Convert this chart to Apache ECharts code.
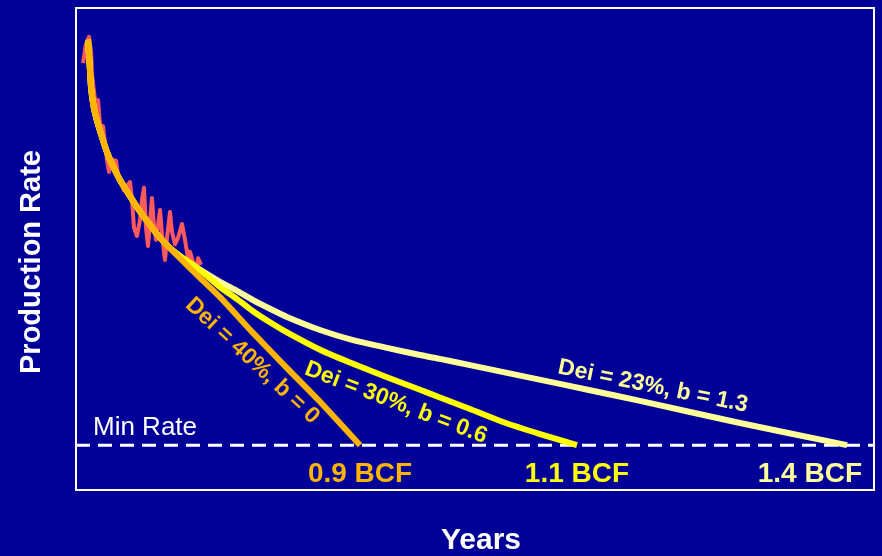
<!DOCTYPE html>
<html><head><meta charset="utf-8">
<script src="https://cdn.jsdelivr.net/npm/echarts@6/dist/echarts.min.js"></script>
<style>html,body{margin:0;padding:0;background:#000099}#c{width:882px;height:556px}</style>
</head><body><div id="c"></div>
<script>
// ---- data (years, production rate) ----
const headCurve = [[0.150,93.4],[0.169,88.8],[0.188,83.6],[0.219,79.7],[0.263,76.6],[0.326,73.2],[0.388,70.1],[0.464,67.2],[0.551,64.3],[0.652,61.6],[0.764,58.7],[0.890,55.8],[1.015,53.1],[1.153,50.6]];
const orangeTail = [[1.303,48.1],[1.554,44.0],[1.805,40.0],[2.218,32.6],[2.644,25.3],[3.058,18.3],[3.559,9.3]];
const yellowTail = [[1.303,48.5],[1.466,46.7],[1.642,44.4],[1.805,42.1],[2.018,39.6],[2.218,37.1],[2.431,34.8],[2.644,32.7],[3.058,29.1],[3.471,26.2],[3.897,23.4],[4.311,20.8],[4.561,19.2],[4.937,16.8],[5.351,14.1],[5.815,11.6],[6.278,9.3]];
const lightTail = [[1.303,48.5],[1.466,46.7],[1.642,44.8],[1.805,43.2],[2.018,41.3],[2.218,39.4],[2.431,37.6],[2.644,35.9],[3.058,33.2],[3.471,31.1],[3.897,29.5],[4.311,28.0],[4.561,27.2],[4.937,25.9],[5.777,23.0],[6.441,20.7],[7.068,18.5],[8.321,13.9],[9.662,9.3]];
const redData = [[0.088,88.6],[0.125,92.5],[0.163,94.0],[0.188,90.9],[0.201,86.1],[0.226,82.6],[0.251,79.3],[0.276,80.9],[0.301,75.7],[0.338,75.5],[0.363,72.0],[0.388,68.5],[0.414,66.0],[0.451,68.5],[0.501,68.3],[0.526,65.4],[0.564,63.9],[0.602,62.2],[0.639,63.1],[0.677,63.9],[0.702,60.2],[0.727,54.4],[0.764,52.7],[0.802,56.0],[0.827,60.2],[0.852,62.7],[0.877,54.4],[0.902,50.6],[0.927,55.6],[0.952,60.6],[0.977,54.8],[1.003,51.9],[1.028,55.0],[1.053,58.1],[1.078,52.9],[1.115,47.7],[1.140,52.3],[1.178,57.7],[1.203,53.5],[1.241,51.0],[1.278,52.3],[1.328,55.2],[1.366,51.9],[1.404,48.1],[1.429,49.4],[1.466,47.3],[1.504,45.2],[1.529,48.1],[1.566,46.7]];
const minRate = 9.3;
const xRange = [0, 10];
const yRange = [0, 100];
const curveLabels = ['Dei = 40%, b = 0', 'Dei = 30%, b = 0.6', 'Dei = 23%, b = 1.3'];
const reserveLabels = ['0.9 BCF', '1.1 BCF', '1.4 BCF'];
const minRateLabel = 'Min Rate';
const xTitle = 'Years';
const yTitle = 'Production Rate';

// ---- styles / layout ----
const ORANGE = '#FFB400', YELLOW = '#FFFF00', LIGHT = '#FFFF99', RED = '#FF5A5A', BG = '#000099';
const FONT = '"Liberation Sans", Arial, sans-serif';

const chart = echarts.init(document.getElementById('c'), null, {renderer: 'canvas'});

function lineSeries(name, data, color, width, z, smooth) {
  return {name, type: 'line', data, symbol: 'none', smooth: smooth, z,
    lineStyle: {color, width, cap: 'butt', join: 'round'}, animation: false, silent: true};
}

chart.setOption({
  backgroundColor: BG,
  animation: false,
  grid: {left: 76, right: 8, top: 8, bottom: 66, show: true, borderColor: '#ffffff', borderWidth: 2, backgroundColor: 'transparent'},
  xAxis: {type: 'value', min: xRange[0], max: xRange[1], axisLine: {show: false}, axisTick: {show: false}, axisLabel: {show: false}, splitLine: {show: false}},
  yAxis: {type: 'value', min: yRange[0], max: yRange[1], axisLine: {show: false}, axisTick: {show: false}, axisLabel: {show: false}, splitLine: {show: false}},
  series: [
    {name: 'min', type: 'line', data: [[xRange[0], minRate], [xRange[1], minRate]], symbol: 'none', z: 1,
      lineStyle: {color: '#ffffff', width: 3, type: [14, 8]}, silent: true},
    lineSeries('data', redData, RED, 4, 2, false),
    lineSeries('b13', headCurve.concat(lightTail), LIGHT, 6, 3, 0.25),
    lineSeries('b06', headCurve.concat(yellowTail), YELLOW, 6, 4, 0.25),
    lineSeries('b0', headCurve.concat(orangeTail), ORANGE, 6, 5, 0.2)
  ]
});

function toPx(p) { return chart.convertToPixel({gridIndex: 0}, p); }

// label anchors (data space) and rotations (deg)
const labelAnchors = [[2.21, 26.8, 43], [4.01, 18.1, 21], [7.23, 21.5, 11.5]];
const labelColors = [ORANGE, YELLOW, LIGHT];
const graphics = [];
curveLabels.forEach((t, i) => {
  const p = toPx([labelAnchors[i][0], labelAnchors[i][1]]);
  graphics.push({type: 'text', x: p[0], y: p[1], rotation: -labelAnchors[i][2] * Math.PI / 180, z: 10,
    style: {text: t, fill: labelColors[i], font: 'bold 23px ' + FONT, align: 'center', verticalAlign: 'middle'}});
});
const ends = [orangeTail[orangeTail.length - 1], yellowTail[yellowTail.length - 1]];
const bcfY = toPx([0, minRate])[1] + 29;
reserveLabels.forEach((t, i) => {
  let x, align = 'center';
  if (i < 2) { x = toPx(ends[i])[0]; } else { x = 862; align = 'right'; }
  graphics.push({type: 'text', x, y: bcfY, z: 10,
    style: {text: t, fill: labelColors[i], font: 'bold 28px ' + FONT, align, verticalAlign: 'middle'}});
});
const mr = toPx([0, minRate]);
graphics.push({type: 'text', x: mr[0] + 17, y: mr[1] - 17, z: 10,
  style: {text: minRateLabel, fill: '#ffffff', font: '26px ' + FONT, align: 'left', verticalAlign: 'middle'}});
graphics.push({type: 'text', x: 481, y: 541, z: 10,
  style: {text: xTitle, fill: '#ffffff', font: 'bold 30px ' + FONT, align: 'center', verticalAlign: 'middle'}});
graphics.push({type: 'text', x: 32, y: 262, rotation: Math.PI / 2, z: 10,
  style: {text: yTitle, fill: '#ffffff', font: 'bold 29px ' + FONT, align: 'center', verticalAlign: 'middle'}});
chart.setOption({graphic: graphics});
</script>
</body></html>
